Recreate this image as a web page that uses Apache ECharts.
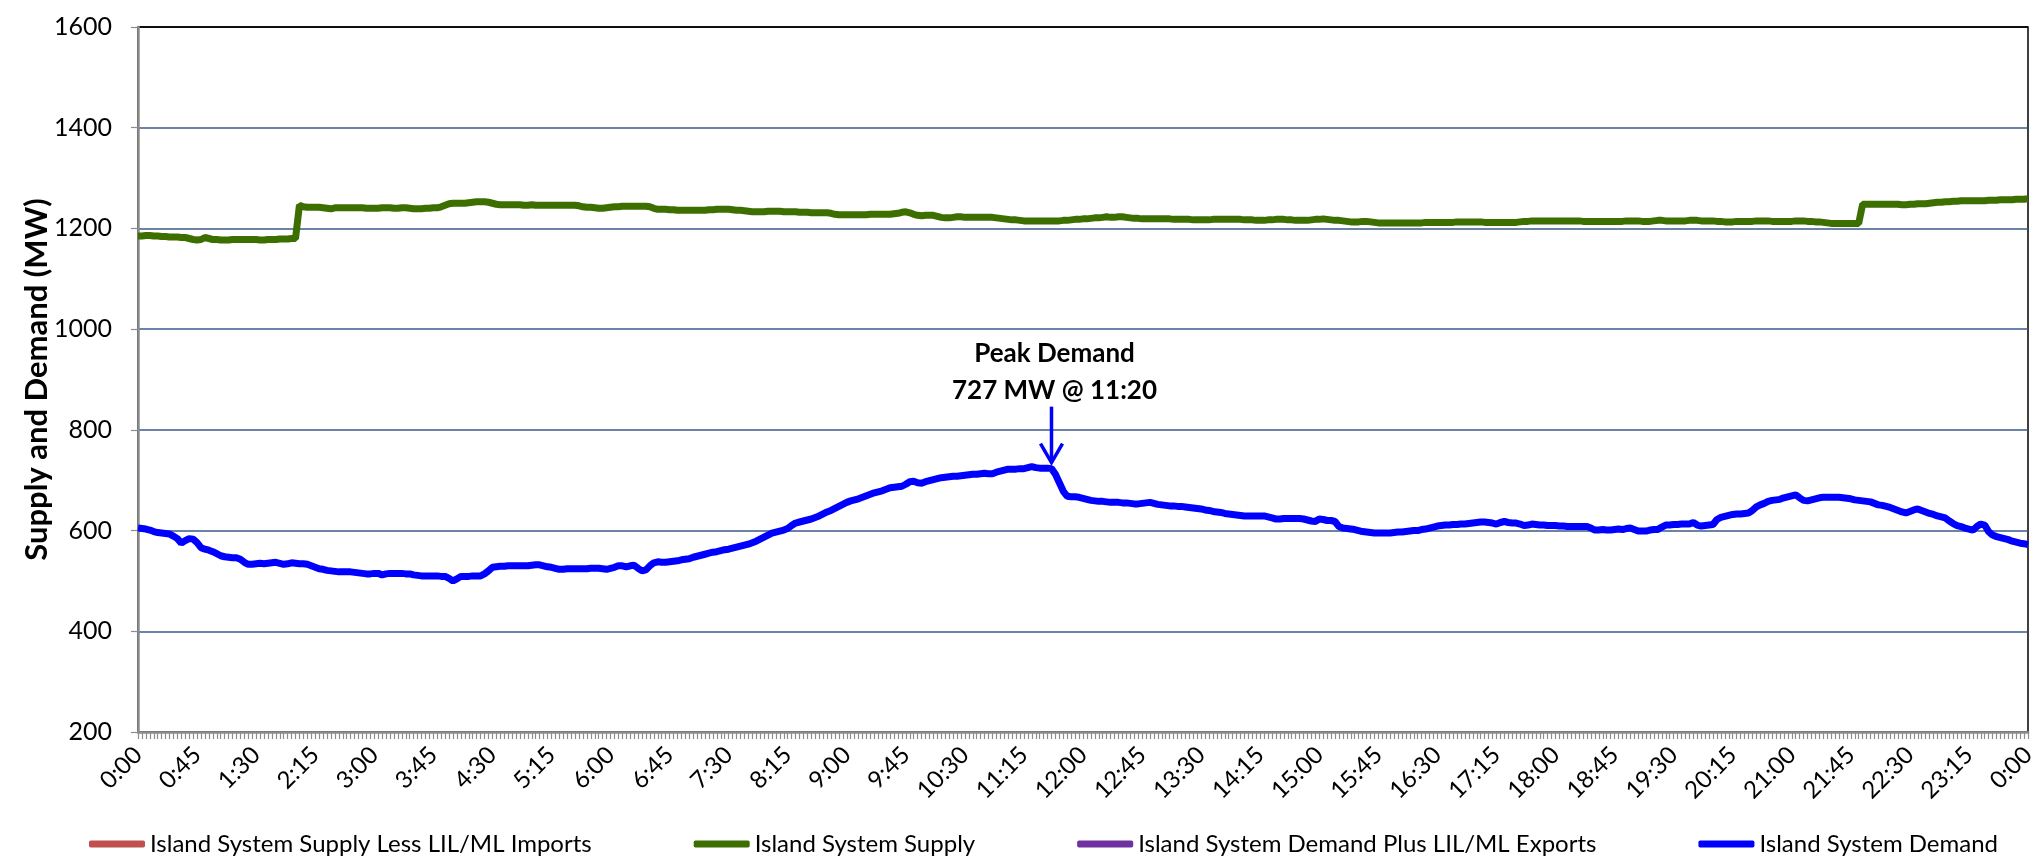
<!DOCTYPE html>
<html>
<head>
<meta charset="utf-8">
<script src="https://cdn.jsdelivr.net/npm/echarts@6/dist/echarts.min.js"></script>
<style>
html,body{margin:0;padding:0;background:#fff;}
#chart{width:2039px;height:858px;}
</style>
</head>
<body>
<div id="chart"></div>
<script>
// 3-minute readings, 0:00 .. 0:00 (481 points), one row per hour
const demandMW = [
605,604,603,601,598,596,595,594,593,589,584,575,580,584,583,576,566,563,561,558,
554,550,548,547,546,546,543,537,533,533,534,535,534,535,536,537,535,533,534,536,
535,534,534,533,530,527,524,523,521,520,519,518,518,518,518,517,516,515,514,514,
515,515,512,514,515,515,515,515,514,514,512,511,510,510,510,510,510,509,509,505,
500,504,509,509,509,510,510,510,514,520,527,528,529,529,530,530,530,530,530,530,
531,532,532,530,528,527,525,523,523,524,524,524,524,524,524,525,525,525,524,523,
525,527,530,530,528,530,531,525,520,522,530,536,538,537,537,538,539,540,542,543,
544,547,549,551,553,555,557,558,560,562,563,565,567,569,571,573,576,579,583,587,
591,595,597,599,601,604,610,615,617,619,621,623,626,629,633,637,640,644,648,652,
656,659,661,663,666,669,672,675,677,679,682,685,686,687,688,692,697,698,695,694,
697,699,701,703,705,706,707,708,708,709,710,711,712,712,713,714,713,713,716,718,
720,722,722,722,723,723,725,727,725,724,724,724,723,712,695,678,668,667,667,666,
664,662,660,659,658,658,657,656,656,656,655,655,654,653,653,654,655,656,654,652,
651,650,649,649,648,648,647,646,645,644,643,641,640,638,637,636,634,633,632,631,
630,629,629,629,629,629,629,627,625,623,623,624,624,624,624,624,623,621,619,618,
623,622,620,620,618,608,605,604,603,602,600,598,597,596,595,595,595,595,595,596,
597,597,598,599,600,600,602,603,605,607,609,610,611,611,612,612,613,613,614,615,
616,617,617,616,615,613,616,618,616,615,615,613,610,611,613,612,611,611,610,610,
610,609,609,608,608,608,608,608,608,605,601,601,602,601,601,602,603,602,604,605,
602,599,599,599,601,602,602,607,611,611,612,612,613,613,613,616,611,609,610,611,
612,622,626,628,630,632,633,633,634,635,640,647,651,654,658,660,661,662,665,667,
669,671,665,660,659,661,663,665,666,666,666,666,666,665,664,663,661,660,659,658,
657,654,651,650,648,646,643,640,637,635,638,641,643,640,637,634,632,629,627,625,
619,614,610,608,605,603,601,608,613,611,598,591,588,586,584,582,579,577,575,574,
572
];
const supplyMW = [
1185,1185,1186,1186,1185,1185,1184,1184,1183,1183,1183,1182,1182,1180,1178,1177,1178,1182,1180,1178,
1178,1177,1177,1177,1178,1178,1178,1178,1178,1178,1178,1177,1177,1178,1178,1178,1179,1179,1179,1180,
1180,1246,1243,1242,1242,1242,1242,1241,1240,1239,1241,1241,1241,1241,1241,1241,1241,1241,1240,1240,
1240,1240,1241,1241,1241,1240,1240,1241,1241,1240,1239,1239,1239,1240,1240,1241,1241,1243,1246,1249,
1250,1250,1250,1250,1251,1252,1253,1253,1253,1252,1250,1248,1247,1247,1247,1247,1247,1247,1246,1246,
1247,1246,1246,1246,1246,1246,1246,1246,1246,1246,1246,1246,1245,1243,1242,1242,1241,1240,1240,1241,
1242,1243,1243,1244,1244,1244,1244,1244,1244,1244,1243,1240,1238,1238,1238,1237,1237,1236,1236,1236,
1236,1236,1236,1236,1236,1237,1237,1238,1238,1238,1238,1237,1236,1236,1235,1234,1233,1233,1233,1233,
1234,1234,1234,1234,1233,1233,1233,1233,1232,1232,1232,1231,1231,1231,1231,1231,1230,1228,1227,1227,
1227,1227,1227,1227,1227,1227,1228,1228,1228,1228,1228,1228,1229,1230,1232,1233,1231,1228,1226,1225,
1226,1226,1226,1224,1222,1221,1221,1222,1223,1223,1222,1222,1222,1222,1222,1222,1222,1222,1221,1220,
1219,1218,1217,1217,1216,1215,1215,1215,1215,1215,1215,1215,1215,1215,1215,1216,1216,1217,1218,1218,
1219,1219,1220,1221,1221,1222,1223,1222,1222,1223,1223,1222,1221,1220,1220,1219,1219,1219,1219,1219,
1219,1219,1219,1218,1218,1218,1218,1218,1217,1217,1217,1217,1217,1218,1218,1218,1218,1218,1218,1218,
1218,1217,1217,1217,1216,1216,1216,1217,1217,1218,1218,1218,1217,1217,1216,1216,1216,1216,1217,1218,
1218,1219,1218,1217,1216,1216,1215,1214,1213,1213,1213,1214,1214,1213,1212,1211,1211,1211,1211,1211,
1211,1211,1211,1211,1211,1211,1211,1212,1212,1212,1212,1212,1212,1212,1212,1213,1213,1213,1213,1213,
1213,1213,1212,1212,1212,1212,1212,1212,1212,1212,1212,1213,1214,1214,1215,1215,1215,1215,1215,1215,
1215,1215,1215,1215,1215,1215,1215,1214,1214,1214,1214,1214,1214,1214,1214,1214,1214,1214,1215,1215,
1215,1215,1214,1214,1214,1215,1216,1216,1215,1215,1215,1215,1215,1215,1216,1216,1216,1215,1215,1215,
1215,1214,1214,1213,1213,1213,1214,1214,1214,1214,1214,1215,1215,1215,1215,1214,1214,1214,1214,1214,
1214,1215,1215,1215,1214,1214,1213,1213,1212,1211,1210,1210,1210,1210,1210,1210,1210,1210,1248,1248,
1248,1248,1248,1248,1248,1248,1248,1248,1247,1247,1248,1248,1249,1249,1249,1250,1251,1252,1252,1253,
1253,1254,1254,1255,1255,1255,1255,1255,1255,1255,1256,1256,1256,1257,1257,1257,1257,1258,1258,1258,
1259
];
const supplyLessImports = [];   // shown in legend only
const demandPlusExports = [];   // shown in legend only

const seriesNames = [
  'Island System Supply Less LIL/ML Imports',
  'Island System Supply',
  'Island System Demand Plus LIL/ML Exports',
  'Island System Demand'
];
const yTicks = [200, 1600, 200]; // min, max, step
const peakIndex = 232;
const peakText = ['Peak Demand', '727 MW @ 11:20'];

// time categories every 3 minutes
const times = [];
for (let i = 0; i < demandMW.length; i++) {
  const m = i * 3;
  const h = Math.floor(m / 60) % 24;
  const mm = m % 60;
  times.push(h + ':' + (mm < 10 ? '0' : '') + mm);
}

const FONT = 'Lato';
const grid = '#3A5A88';
const chart = echarts.init(document.getElementById('chart'), null, {renderer: 'canvas'});
const option = {
  animation: false,
  backgroundColor: '#ffffff',
  textStyle: {fontFamily: FONT},
  grid: {left: 138, right: 11, top: 27, bottom: 126, show: true, borderColor: '#000', borderWidth: 1.5},
  legend: {
    left: 89, top: 832, padding: 0,
    itemWidth: 56, itemHeight: 7, itemGap: 102, icon: 'roundRect',
    textStyle: {fontSize: 24, color: '#000', fontFamily: FONT},
    data: seriesNames
  },
  xAxis: {
    type: 'category', data: times, boundaryGap: false,
    axisLine: {lineStyle: {color: '#8C8C8C', width: 2.5}},
    axisTick: {show: true, interval: 0, length: 7, lineStyle: {color: '#8C8C8C', width: 1.2}},
    axisLabel: {interval: 14, rotate: 45, margin: 19, fontSize: 24, color: '#000', fontFamily: FONT},
    splitLine: {show: false}
  },
  yAxis: {
    type: 'value', min: yTicks[0], max: yTicks[1], interval: yTicks[2],
    name: 'Supply and Demand (MW)', nameLocation: 'middle', nameGap: 86, nameMoveOverlap: false,
    nameTextStyle: {fontSize: 31, fontWeight: 'bold', color: '#000', fontFamily: FONT},
    axisLine: {show: true, lineStyle: {color: '#8C8C8C', width: 2.5}},
    axisTick: {show: true, length: 7, lineStyle: {color: '#8C8C8C', width: 1.2}},
    axisLabel: {margin: 26, fontSize: 25, color: '#000', fontFamily: FONT, formatter: function (v) { return String(v); }},
    splitLine: {show: true, lineStyle: {color: [grid, grid, grid, grid, grid, grid, grid, '#000'], width: 1.6}}
  },
  series: [
    {name: seriesNames[0], type: 'line', data: supplyLessImports, showSymbol: false, color: '#C0504D', lineStyle: {width: 7}},
    {name: seriesNames[1], type: 'line', data: supplyMW, showSymbol: false, color: '#3C6E00', lineStyle: {width: 7}, z: 3},
    {name: seriesNames[2], type: 'line', data: demandPlusExports, showSymbol: false, color: '#7030A0', lineStyle: {width: 7}},
    {name: seriesNames[3], type: 'line', data: demandMW, showSymbol: false, color: '#0000FF', lineStyle: {width: 7}, z: 4}
  ]
};
chart.setOption(option);

// Peak annotation anchored to the data point
const p = chart.convertToPixel({xAxisIndex: 0, yAxisIndex: 0}, [peakIndex, demandMW[peakIndex]]);
const tipX = p[0], tipY = p[1] - 6;
chart.setOption({
  graphic: [
    {type: 'line', shape: {x1: tipX, y1: tipY - 56, x2: tipX, y2: tipY}, style: {stroke: '#0000FF', lineWidth: 3.5}, z: 10},
    {type: 'polyline', shape: {points: [[tipX - 11, tipY - 19], [tipX, tipY], [tipX + 11, tipY - 19]]}, style: {stroke: '#0000FF', lineWidth: 3.5, fill: null}, z: 10},
    {type: 'text', style: {text: peakText[0], x: tipX + 3, y: tipY - 109, align: 'center', verticalAlign: 'middle', font: 'bold 26px ' + FONT, fill: '#000'}, z: 10},
    {type: 'text', style: {text: peakText[1], x: tipX + 3, y: tipY - 72, align: 'center', verticalAlign: 'middle', font: 'bold 26px ' + FONT, fill: '#000'}, z: 10}
  ]
});
</script>
</body>
</html>
